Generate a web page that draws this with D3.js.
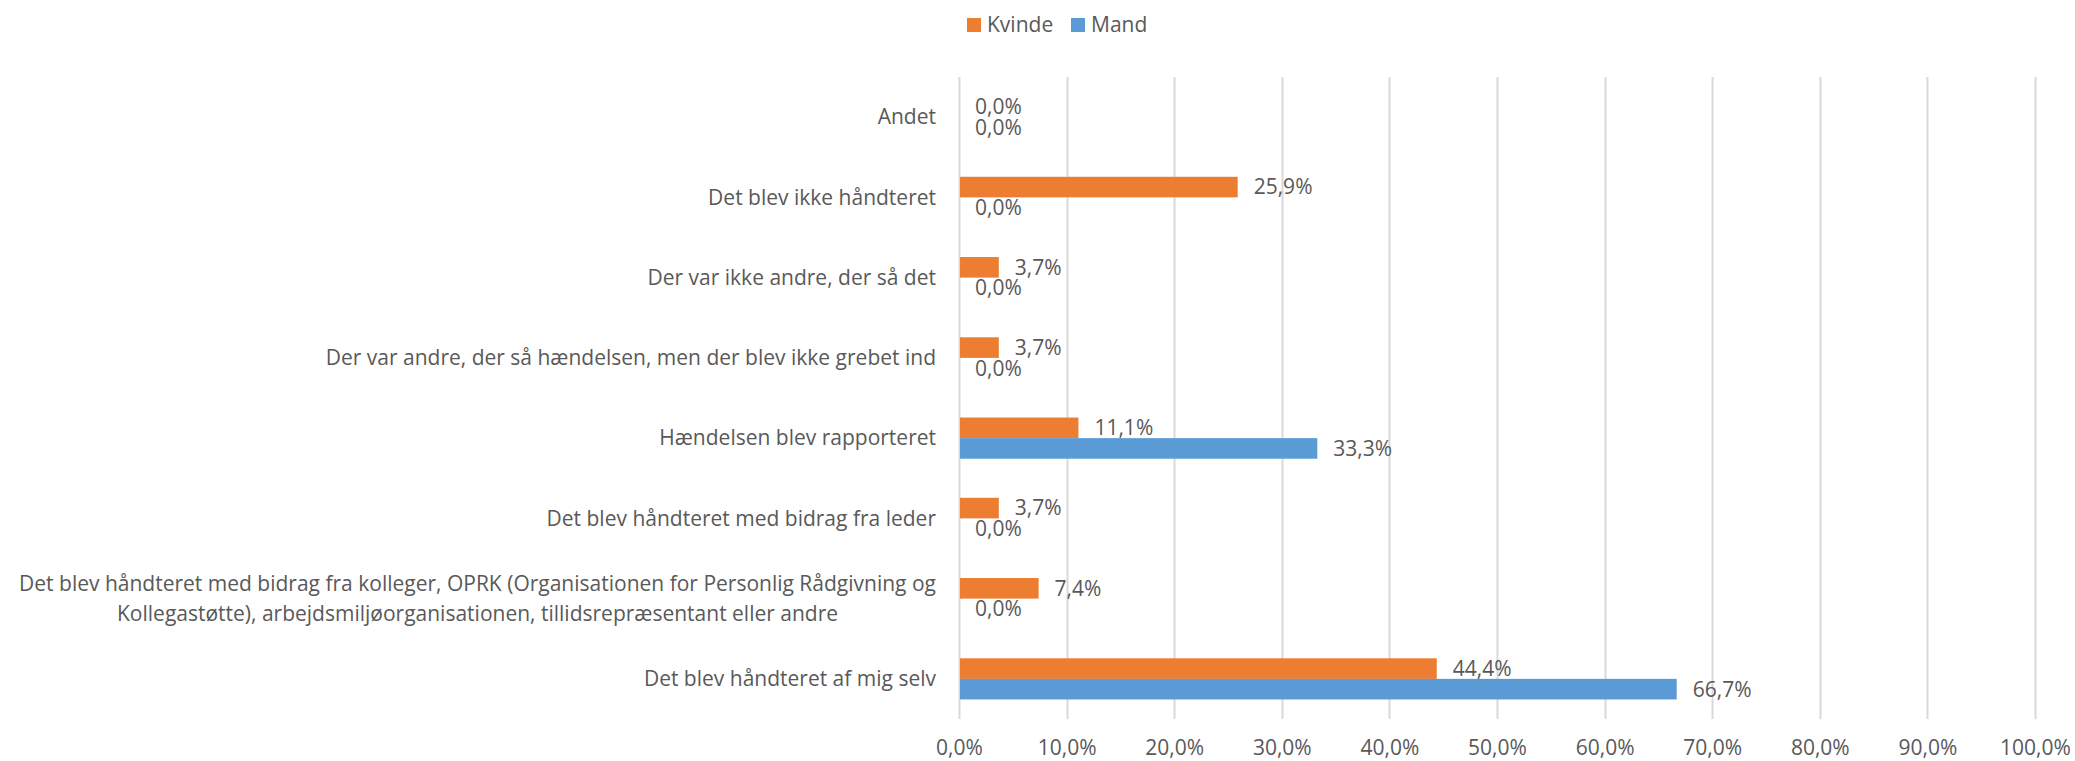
<!DOCTYPE html>
<html>
<head>
<meta charset="utf-8">
<script src="https://cdn.jsdelivr.net/npm/d3@7"></script>
<style>
body{margin:0;background:#fff;}
svg text{font-family:"Open Sans",sans-serif;fill:#595959;}
</style>
</head>
<body>
<svg id="chart"></svg>
<script>
// categories, top to bottom
var categories=[
    "Andet",
    "Det blev ikke håndteret",
    "Der var ikke andre, der så det",
    "Der var andre, der så hændelsen, men der blev ikke grebet ind",
    "Hændelsen blev rapporteret",
    "Det blev håndteret med bidrag fra leder",
    "Det blev håndteret med bidrag fra kolleger, OPRK (Organisationen for Personlig Rådgivning og\nKollegastøtte), arbejdsmiljøorganisationen, tillidsrepræsentant eller andre",
    "Det blev håndteret af mig selv"
]
var seriesNames=["Kvinde","Mand"]
var kvinde=[0.0,0.259,0.037,0.037,0.111,0.037,0.074,0.444]
var mand=[0.0,0.0,0.0,0.0,0.333,0.0,0.0,0.667]
var ticks=[0,0.1,0.2,0.3,0.4,0.5,0.6,0.7,0.8,0.9,1.0]
var colors=["#ED7D31","#5B9BD5"]

var screen={width:2075,height:761}
var margins={left:959,right:40,top:77,bottom:42}
var graph={
    width:screen.width-margins.left-margins.right,
    height:screen.height-margins.top-margins.bottom
}
var fs="21px"

var svg=d3.select("#chart")
    .attr("width",screen.width)
    .attr("height",screen.height)

var da=d3.formatLocale({decimal:",",thousands:".",grouping:[3],currency:["","kr"]})
var pct=da.format(".1%")

var xScale=d3.scaleLinear()
    .domain([0,1])
    .range([margins.left,margins.left+graph.width])
var yScale=d3.scaleBand()
    .domain(categories)
    .range([margins.top,margins.top+graph.height])
    .paddingInner(0.487)
    .paddingOuter(0.2435)
var ySub=d3.scaleBand()
    .domain(seriesNames)
    .range([0,yScale.bandwidth()])

// gridlines
svg.append("g")
    .selectAll("line")
    .data(ticks)
    .enter()
    .append("line")
    .attr("x1",function(d){return Math.round(xScale(d))+0.5})
    .attr("x2",function(d){return Math.round(xScale(d))+0.5})
    .attr("y1",margins.top)
    .attr("y2",margins.top+graph.height)
    .attr("stroke","#D9D9D9")
    .attr("stroke-width",2)

// x axis labels
var xAxis=d3.axisBottom(xScale)
    .tickValues(ticks)
    .tickFormat(pct)
    .tickSize(0)
    .tickPadding(0)
var ax=svg.append("g")
    .attr("transform","translate(0,"+(margins.top+graph.height)+")")
    .call(xAxis)
ax.select(".domain").remove()
ax.selectAll("text")
    .attr("y",36)
    .attr("dy",null)
    .style("font-size",fs)
    .attr("fill","#595959")

// bars
var rows=categories.map(function(c,i){
    return {cat:c,vals:[{s:"Kvinde",v:kvinde[i]},{s:"Mand",v:mand[i]}]}
})
var groups=svg.append("g")
    .selectAll("g")
    .data(rows)
    .enter()
    .append("g")
    .attr("transform",function(d){return "translate(0,"+yScale(d.cat)+")"})

groups.selectAll("rect")
    .data(function(d){return d.vals})
    .enter()
    .append("rect")
    .attr("x",xScale(0)+1)
    .attr("y",function(d){return ySub(d.s)})
    .attr("width",function(d){return Math.max(0,xScale(d.v)-xScale(0)-1)})
    .attr("height",ySub.bandwidth())
    .attr("fill",function(d,i){return colors[i]})

groups.selectAll("text.val")
    .data(function(d){return d.vals})
    .enter()
    .append("text")
    .classed("val",true)
    .attr("x",function(d){return xScale(d.v)+16})
    .attr("y",function(d){return ySub(d.s)+ySub.bandwidth()/2})
    .attr("dy","0.35em")
    .style("font-size",fs)
    .text(function(d){return pct(d.v)})

// category labels
var labelRight=936
categories.forEach(function(c){
    var lines=c.split("\n")
    var cy=yScale(c)+yScale.bandwidth()/2
    var g=svg.append("g")
    var lh=30
    var texts=lines.map(function(l,i){
        return g.append("text")
            .text(l)
            .style("font-size",fs)
            .attr("y",cy+(i-(lines.length-1)/2)*lh)
            .attr("dy","0.35em")
    })
    var w=d3.max(texts,function(t){return t.node().getComputedTextLength()})
    texts.forEach(function(t){
        t.attr("text-anchor","middle").attr("x",labelRight-w/2)
    })
})

// legend
var legend=svg.append("g")
var lx=[967,1071]
seriesNames.forEach(function(s,i){
    legend.append("rect")
        .attr("x",lx[i])
        .attr("y",18)
        .attr("width",14)
        .attr("height",14)
        .attr("fill",colors[i])
    legend.append("text")
        .attr("x",lx[i]+20)
        .attr("y",25)
        .attr("dy","0.35em")
        .style("font-size",fs)
        .text(s)
})
</script>
</body>
</html>
